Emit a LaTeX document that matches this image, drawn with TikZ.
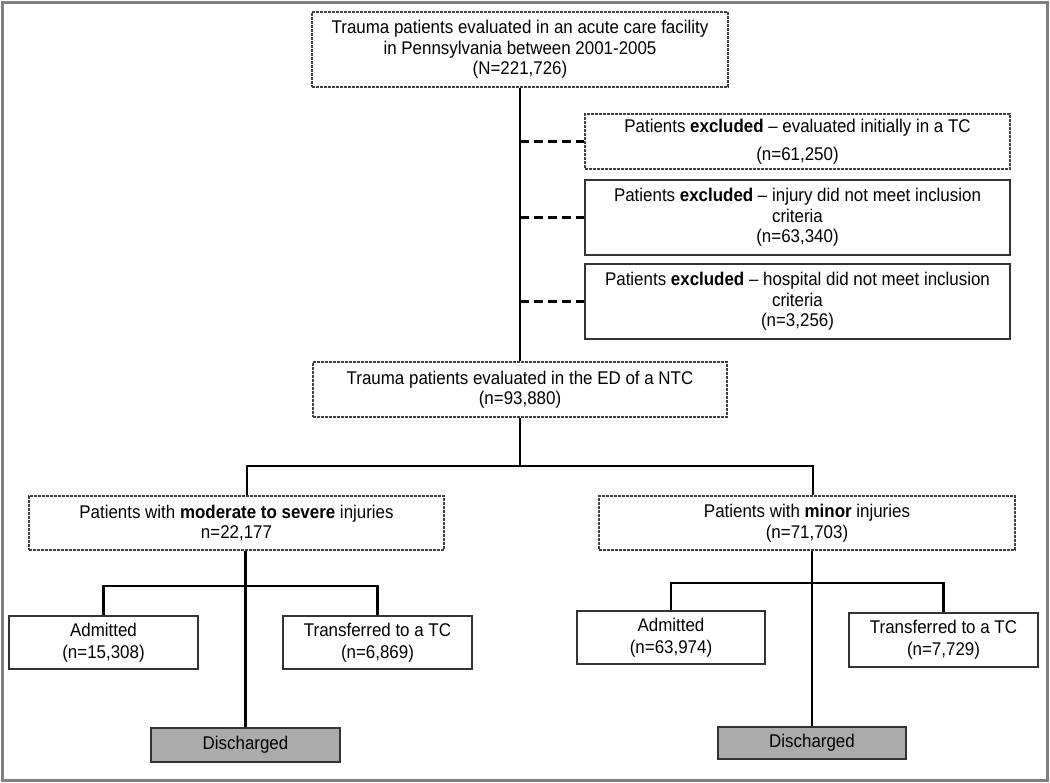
\documentclass[tikz,border=0pt]{standalone}
\usepackage{fontspec}
\setmainfont{Liberation Sans}[FakeStretch=0.92]
\begin{document}
\begin{tikzpicture}[x=1pt,y=-1pt,
  txt/.style={font=\fontsize{18.4}{20.5}\selectfont, align=center, inner sep=0pt, rectangle},
  dotbox/.style={txt, draw=black!75, line width=1.4pt, dash pattern=on 2.6pt off 1.4pt},
  solidbox/.style={txt, draw=black!80, line width=1.5pt},
  graybox/.style={solidbox, fill=black!33},
  conn/.style={line width=2.4pt, black},
  dconn/.style={line width=2.4pt, black, dash pattern=on 9pt off 5pt}]
\useasboundingbox (0,0) rectangle (1050,783);
\draw[black!50, line width=3pt] (2.5,2.5) rectangle (1047,780.5);

\node[dotbox, minimum width=416pt, minimum height=75pt] (top) at (520,49.5)
  {Trauma patients evaluated in an acute care facility\\in Pennsylvania between 2001-2005\\(N=221,726)};
\node[dotbox, minimum width=425pt, minimum height=55pt] (ex1) at (797.5,141.5)
  {Patients \textbf{excluded} – evaluated initially in a TC\\[7pt](n=61,250)};
\node[solidbox, minimum width=425pt, minimum height=75pt] (ex2) at (797.5,217.5)
  {Patients \textbf{excluded} – injury did not meet inclusion\\criteria\\(n=63,340)};
\node[solidbox, minimum width=425pt, minimum height=75pt] (ex3) at (797.5,301.5)
  {Patients \textbf{excluded} – hospital did not meet inclusion\\criteria\\(n=3,256)};
\node[dotbox, minimum width=414pt, minimum height=55pt] (ed) at (520,389.5)
  {Trauma patients evaluated in the ED of a NTC\\(n=93,880)};
\node[dotbox, minimum width=415pt, minimum height=54pt] (mod) at (236.5,523)
  {Patients with \textbf{moderate to severe} injuries\\n=22,177};
\node[dotbox, minimum width=416pt, minimum height=54pt] (minor) at (807,523)
  {Patients with \textbf{minor} injuries\\(n=71,703)};
\node[solidbox, minimum width=189pt, minimum height=53pt] (adm1) at (103.5,642.5)
  {Admitted\\[1.5pt](n=15,308)};
\node[solidbox, minimum width=189pt, minimum height=53pt] (tr1) at (377.5,642.5)
  {Transferred to a TC\\[1.5pt](n=6,869)};
\node[solidbox, minimum width=188pt, minimum height=53pt] (adm2) at (671,637.5)
  {Admitted\\[1.5pt](n=63,974)};
\node[solidbox, minimum width=189pt, minimum height=54pt] (tr2) at (943.5,640)
  {Transferred to a TC\\[1.5pt](n=7,729)};
\node[graybox, minimum width=189pt, minimum height=34pt] (dis1) at (245.5,745) {Discharged};
\node[graybox, minimum width=188pt, minimum height=32pt] (dis2) at (812,743) {Discharged};

\coordinate (sL) at (247,466);
\coordinate (sR) at (813,466);
\coordinate (lsplit) at (0,586);
\coordinate (rsplit) at (0,583);

\draw[conn] (top.south) -- (ed.north);
\draw[dconn] (ex1.west -| top.south) -- (ex1.west);
\draw[dconn] (ex2.west -| top.south) -- (ex2.west);
\draw[dconn] (ex3.west -| top.south) -- (ex3.west);
\draw[conn] (ed.south) -- (ed.south |- sL);
\draw[conn] (sL |- mod.north) -- (sL) -- (sR) -- (sR |- minor.north);
\draw[conn] (dis1.north) -- (dis1.north |- mod.south);
\draw[conn] (adm1.north) -- (adm1.north |- lsplit) -- (tr1.north |- lsplit) -- (tr1.north);
\draw[conn] (dis2.north) -- (dis2.north |- minor.south);
\draw[conn] (adm2.north) -- (adm2.north |- rsplit) -- (tr2.north |- rsplit) -- (tr2.north);
\end{tikzpicture}
\end{document}
